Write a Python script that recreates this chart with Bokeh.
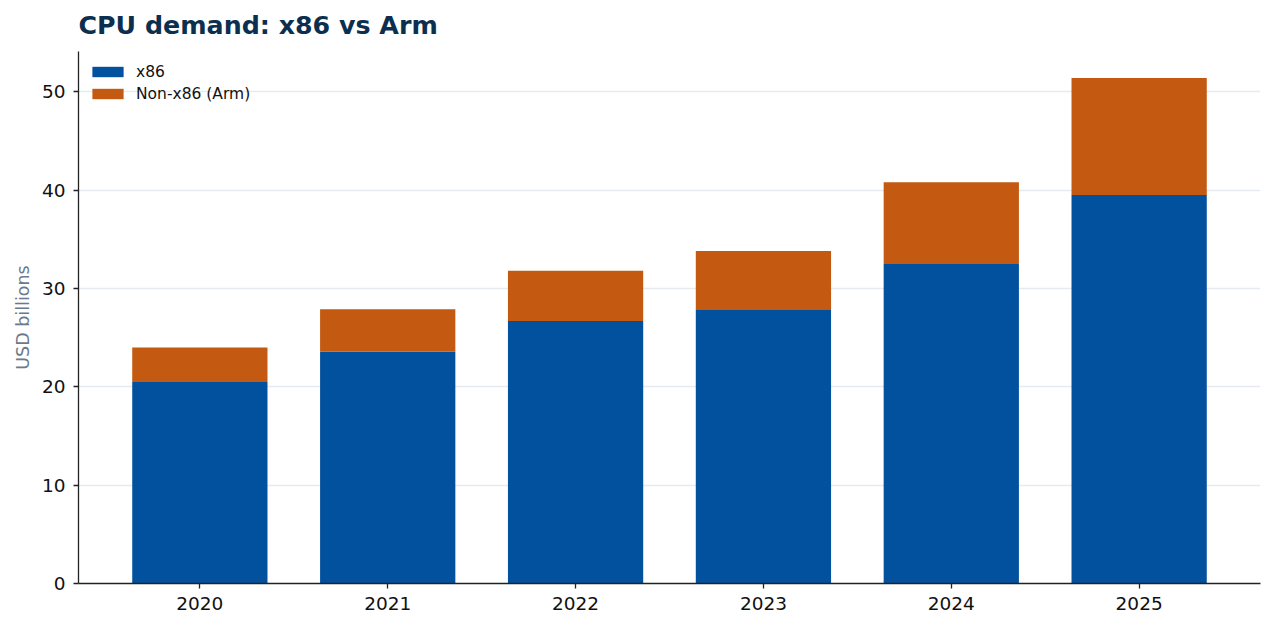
from bokeh.plotting import figure
from bokeh.models import ColumnDataSource, Range1d, FixedTicker, Title
from bokeh.embed import file_html
from bokeh.resources import INLINE

years = ["2020", "2021", "2022", "2023", "2024", "2025"]
x86 = [20.5, 23.6, 26.7, 27.9, 32.5, 39.5]
arm = [3.5, 4.3, 5.1, 5.9, 8.3, 11.9]
y_ticks = [0, 10, 20, 30, 40, 50]

BLUE = "#02519e"
ORANGE = "#c45911"
FONT = "DejaVu Sans"

xs = list(range(len(years)))
src = ColumnDataSource(dict(x=xs, x86=x86, arm=arm))

p = figure(width=1266, height=622, output_backend="svg", toolbar_location=None,
           x_range=Range1d(-0.646, len(years) - 1 + 0.646),
           y_range=Range1d(0, 54.1),
           min_border_left=78, min_border_right=6, min_border_bottom=39, min_border_top=10)

rs = p.vbar_stack(["x86", "arm"], x="x", width=0.72, source=src, color=[BLUE, ORANGE],
                  line_color=None, legend_label=["x86", "Non-x86 (Arm)"])

p.title.text = "CPU demand: x86 vs Arm"
p.title.text_font = FONT
p.title.text_font_size = "25.3px"
p.title.text_font_style = "bold"
p.title.text_color = "#0d2f4f"
p.title.align = "left"
p.title.offset = 0
p.title.standoff = 16

# thin spacer between the title and the plot frame
spacer = Title(text=" ", text_font_size="1px", standoff=1)
p.add_layout(spacer, "above")

p.outline_line_color = None
p.background_fill_color = "white"
p.border_fill_color = "white"

p.xgrid.grid_line_color = None
p.ygrid.grid_line_color = "#e6eaf1"
p.ygrid.grid_line_width = 1.5
p.ygrid.ticker = FixedTicker(ticks=y_ticks)

p.xaxis.ticker = FixedTicker(ticks=xs)
p.xaxis.major_label_overrides = {i: y for i, y in enumerate(years)}
p.yaxis.ticker = FixedTicker(ticks=y_ticks)

for ax in (p.xaxis[0], p.yaxis[0]):
    ax.axis_line_color = "#222222"
    ax.axis_line_width = 1.3
    ax.major_tick_line_color = "#222222"
    ax.major_tick_line_width = 1.3
    ax.major_tick_out = 5
    ax.major_tick_in = 0
    ax.minor_tick_line_color = None
    ax.major_label_text_font = FONT
    ax.major_label_text_font_size = "18.5px"
    ax.major_label_text_color = "#111111"
    ax.major_label_standoff = 8

p.yaxis.axis_label = "USD billions"
p.yaxis.axis_label_text_font = FONT
p.yaxis.axis_label_text_font_size = "17.5px"
p.yaxis.axis_label_text_font_style = "normal"
p.yaxis.axis_label_text_color = "#6b7a8c"
p.yaxis.axis_label_standoff = 6

lg = p.legend[0]
lg.location = "top_left"
lg.border_line_color = None
lg.background_fill_alpha = 0
lg.label_text_font = FONT
lg.label_text_font_size = "15.5px"
lg.label_text_color = "#111111"
lg.glyph_width = 39
lg.glyph_height = 13
lg.label_height = 21
lg.label_standoff = 9
lg.spacing = 1
lg.margin = 10
lg.padding = 0

open("out.html", "w").write(file_html(p, INLINE))
